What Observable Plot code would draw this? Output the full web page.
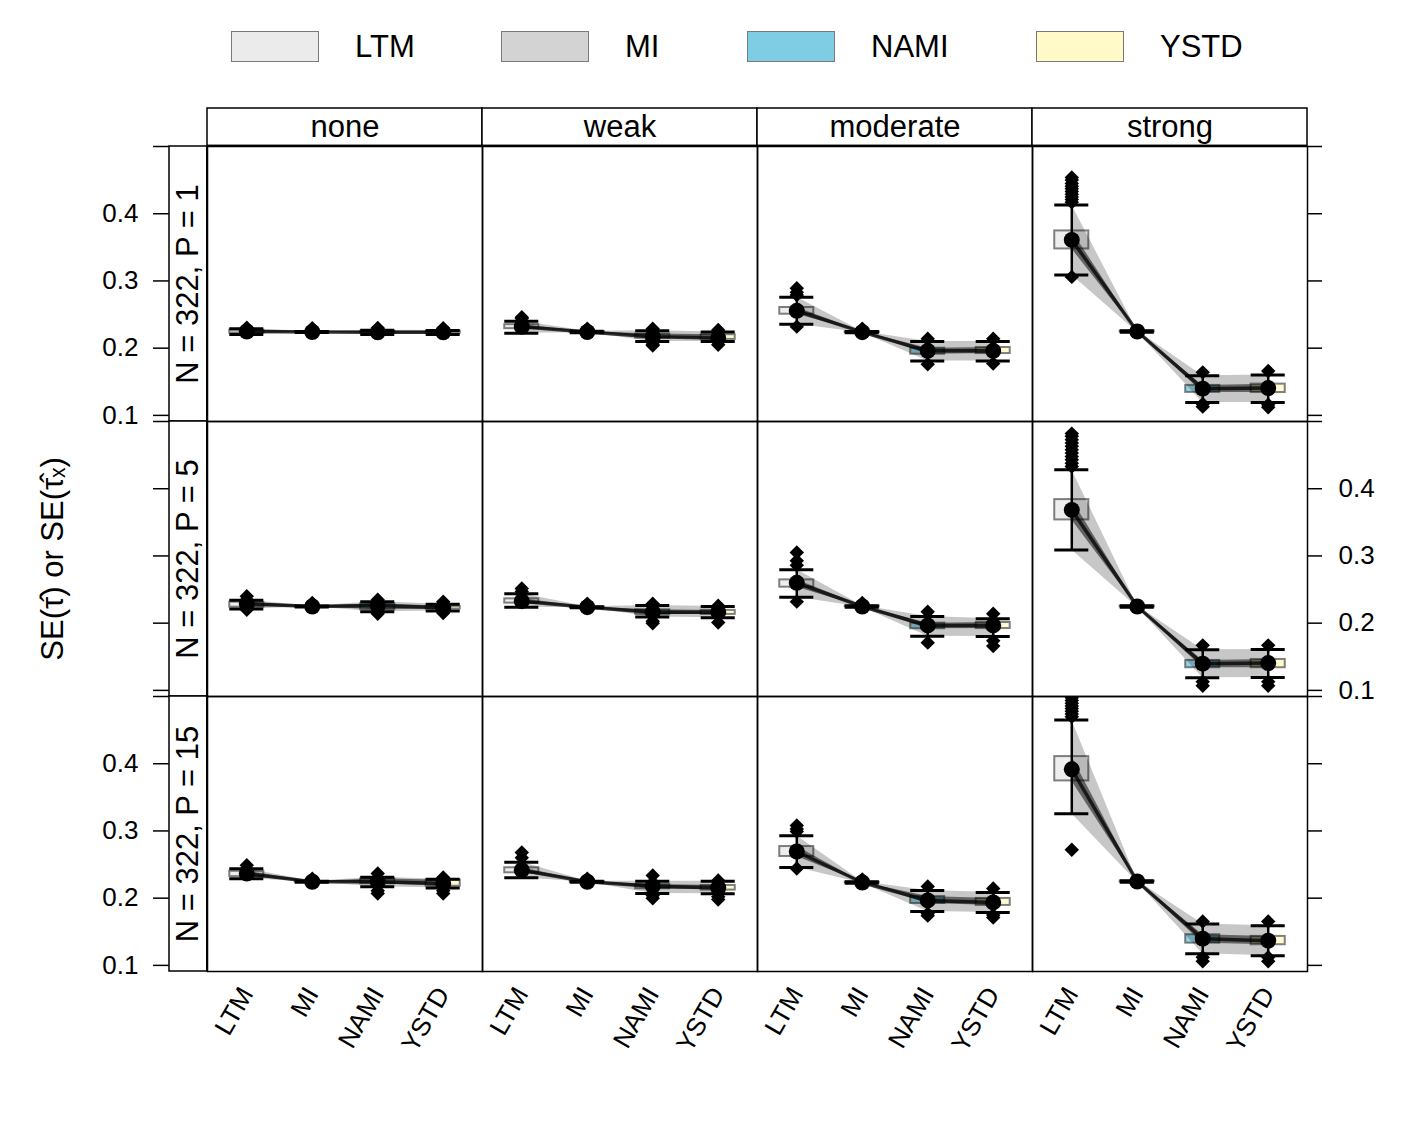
<!DOCTYPE html>
<html><head><meta charset="utf-8">
<script src="https://cdn.jsdelivr.net/npm/d3@7"></script>
<script src="https://cdn.jsdelivr.net/npm/@observablehq/plot@0.6"></script>
<style>
body{margin:0;background:#fff;font-family:"Liberation Sans",Arial,sans-serif;}
#legend{position:relative;width:1420px;height:95px;}
.sw{position:absolute;top:31px;width:88px;height:31px;border:1px solid #7a7a7a;box-sizing:border-box;}
.lb{position:absolute;top:29px;font-size:31px;line-height:36px;color:#000;}
#chart svg{display:block;}
</style></head><body>
<div id="legend"></div>
<div id="chart"></div>
<script>
// ---------- data ----------
const strengths = ["none", "weak", "moderate", "strong"];
const designs = ["N = 322, P = 1", "N = 322, P = 5", "N = 322, P = 15"];
const methods = ["LTM", "MI", "NAMI", "YSTD"];
const methodColors = ["#ebebeb", "#d3d3d3", "#7fcde4", "#fffac8"];
const yTickValues = [0.1, 0.2, 0.3, 0.4, 0.5];
const yLabelValues = [0.1, 0.2, 0.3, 0.4];
const yTitle = "SE(τ̂) or SE(τ̂ₓ)";

// indexed [design][strength][method]
const seMean = [
  [[0.2248, 0.2240, 0.2235, 0.2235], [0.232, 0.224, 0.217, 0.215], [0.2556, 0.2238, 0.196, 0.196], [0.361, 0.2248, 0.1397, 0.1406]],
  [[0.2288, 0.2248, 0.2263, 0.2229], [0.2327, 0.2238, 0.2163, 0.2163], [0.260, 0.2248, 0.1966, 0.1966], [0.3684, 0.2248, 0.1397, 0.1406]],
  [[0.2367, 0.2244, 0.2244, 0.2218], [0.2416, 0.2244, 0.2178, 0.2155], [0.2694, 0.2233, 0.1966, 0.1936], [0.3917, 0.2248, 0.1397, 0.1367]]
];
const seQ1 = [
  [[0.2225, 0.2236, 0.2222, 0.2222], [0.229, 0.2235, 0.215, 0.213], [0.2505, 0.2232, 0.191, 0.192], [0.3476, 0.2242, 0.1342, 0.134]],
  [[0.2238, 0.2244, 0.2198, 0.221], [0.2298, 0.2234, 0.2129, 0.213], [0.2535, 0.2242, 0.1917, 0.192], [0.3536, 0.2242, 0.1337, 0.1337]],
  [[0.232, 0.224, 0.2214, 0.2178], [0.2377, 0.224, 0.214, 0.212], [0.262, 0.2228, 0.1921, 0.1892], [0.3744, 0.2242, 0.1331, 0.1307]]
];
const seQ3 = [
  [[0.2268, 0.2244, 0.2250, 0.2250], [0.235, 0.2245, 0.221, 0.220], [0.2605, 0.2244, 0.200, 0.201], [0.3744, 0.2254, 0.1446, 0.1465]],
  [[0.2312, 0.2252, 0.2288, 0.225], [0.2362, 0.2242, 0.2198, 0.219], [0.2644, 0.2254, 0.200, 0.201], [0.3838, 0.2254, 0.1446, 0.146]],
  [[0.240, 0.2248, 0.2288, 0.2268], [0.2452, 0.2248, 0.2204, 0.2189], [0.2768, 0.2238, 0.2025, 0.1996], [0.4106, 0.2254, 0.1456, 0.1431]]
];
const seLo = [
  [[0.2205, 0.2232, 0.2205, 0.2205], [0.222, 0.223, 0.210, 0.210], [0.2357, 0.2228, 0.181, 0.181], [0.309, 0.2235, 0.1193, 0.119]],
  [[0.221, 0.224, 0.217, 0.218], [0.2238, 0.223, 0.209, 0.208], [0.2387, 0.2238, 0.1807, 0.1802], [0.309, 0.2238, 0.1189, 0.119]],
  [[0.229, 0.2236, 0.2169, 0.215], [0.2303, 0.2236, 0.207, 0.2065], [0.2456, 0.2222, 0.1802, 0.1788], [0.3254, 0.2238, 0.1174, 0.1144]]
];
const seHi = [
  [[0.2290, 0.2248, 0.2265, 0.2262], [0.240, 0.225, 0.226, 0.224], [0.2758, 0.2248, 0.210, 0.210], [0.413, 0.226, 0.159, 0.160]],
  [[0.234, 0.2256, 0.232, 0.228], [0.2436, 0.2246, 0.2263, 0.2248], [0.2793, 0.2258, 0.210, 0.2065], [0.4284, 0.2258, 0.1605, 0.161]],
  [[0.2437, 0.2252, 0.2312, 0.228], [0.2535, 0.2252, 0.2253, 0.2253], [0.293, 0.2244, 0.2114, 0.2085], [0.4651, 0.2258, 0.1614, 0.1589]]
];
const seOutliers = [
  [
    [[0.2305], [0.2295], [0.2300], [0.2298]],
    [[0.244, 0.246], [0.229], [0.229, 0.204, 0.206], [0.227, 0.205]],
    [[0.289, 0.283, 0.279, 0.232], [0.229], [0.214, 0.176], [0.214, 0.177]],
    [[0.417, 0.421, 0.425, 0.429, 0.433, 0.437, 0.441, 0.445, 0.450, 0.454, 0.306], [], [0.164, 0.117, 0.113], [0.166, 0.116, 0.112]]
  ],
  [
    [[0.240, 0.220], [0.230], [0.235, 0.214], [0.232, 0.215]],
    [[0.2516, 0.247], [0.229], [0.229, 0.200, 0.203], [0.226, 0.201]],
    [[0.305, 0.293, 0.286, 0.232], [0.230], [0.217, 0.171], [0.214, 0.174, 0.166]],
    [[0.433, 0.438, 0.443, 0.448, 0.453, 0.458, 0.463, 0.468, 0.473, 0.478, 0.482], [], [0.167, 0.113, 0.107], [0.167, 0.113, 0.107]]
  ],
  [
    [[0.249], [0.229], [0.2367, 0.207, 0.211], [0.2308, 0.207, 0.211]],
    [[0.260, 0.268], [0.229], [0.2337, 0.200, 0.204], [0.2263, 0.198, 0.202]],
    [[0.299, 0.303, 0.308, 0.244], [0.228], [0.2174, 0.177, 0.174], [0.2144, 0.1713, 0.175]],
    [[0.470, 0.474, 0.478, 0.482, 0.486, 0.490, 0.494, 0.498, 0.2719], [], [0.1654, 0.112, 0.106], [0.1654, 0.112, 0.106]]
  ]
];

// ---------- legend (HTML) ----------
const legendSwatchLeft = [231, 501, 747, 1036];
const legend = document.getElementById("legend");
methods.forEach((m, i) => {
  const s = document.createElement("div");
  s.className = "sw"; s.style.left = legendSwatchLeft[i] + "px"; s.style.background = methodColors[i];
  legend.appendChild(s);
  const t = document.createElement("div");
  t.className = "lb"; t.style.left = (legendSwatchLeft[i] + 124) + "px"; t.textContent = m;
  legend.appendChild(t);
});

// ---------- tables ----------
const boxes = [], outl = [];
designs.forEach((dz, r) => strengths.forEach((st, c) => methods.forEach((m, k) => {
  boxes.push({design: dz, strength: st, method: m, pos: k + 1, key: r + "-" + c, color: methodColors[k],
    mean: seMean[r][c][k], q1: seQ1[r][c][k], q3: seQ3[r][c][k], lo: seLo[r][c][k], hi: seHi[r][c][k]});
  seOutliers[r][c][k].forEach(v => outl.push({design: dz, strength: st, pos: k + 1, value: v}));
})));
const topStrips = strengths.map(s => ({strength: s, design: designs[0]}));
const leftStrips = designs.map(d => ({strength: strengths[0], design: d}));
const leftTicks = [], rightTicks = [], leftLabels = [], rightLabels = [];
designs.forEach((d, r) => {
  yTickValues.forEach(v => {
    leftTicks.push({strength: strengths[0], design: d, v});
    rightTicks.push({strength: strengths[3], design: d, v});
  });
  yLabelValues.forEach(v => {
    if (r === 1) rightLabels.push({strength: strengths[3], design: d, v});
    else leftLabels.push({strength: strengths[0], design: d, v});
  });
});
const xLabels = [];
strengths.forEach(s => methods.forEach((m, k) => xLabels.push({strength: s, design: designs[2], pos: k + 1, method: m})));
const titleRow = [{strength: strengths[0], design: designs[1], text: yTitle}];

// ---------- layout ----------
const W = 1420, H = 1041;
const mTop = 50, mBottom = 164, mLeft = 206, mRight = 113;
const fw = (W - mLeft - mRight) / 4, fh = (H - mTop - mBottom) / 3;
const stripH = 38, HALF = 0.26;
const F = {fx: "strength", fy: "design"};

const chart = Plot.plot({
  width: W, height: H,
  marginTop: mTop, marginBottom: mBottom, marginLeft: mLeft, marginRight: mRight,
  style: {fontFamily: "Liberation Sans, Arial, sans-serif", background: "white", overflow: "visible"},
  fx: {domain: strengths, padding: 0, axis: null},
  fy: {domain: designs, padding: 0, axis: null},
  x: {domain: [0.4, 4.6], axis: null},
  y: {domain: [0.0909, 0.5], axis: null},
  marks: [
    Plot.rect(topStrips, {...F, fill: "white", stroke: "black", strokeWidth: 1.5, insetTop: -stripH, insetBottom: fh}),
    Plot.text(topStrips, {...F, text: "strength", frameAnchor: "top", lineAnchor: "middle", dy: -stripH / 2, fontSize: 31}),
    Plot.rect(leftStrips, {...F, fill: "white", stroke: "black", strokeWidth: 1.5, insetLeft: -stripH, insetRight: fw}),
    Plot.text(leftStrips, {...F, text: "design", frameAnchor: "left", textAnchor: "middle", lineAnchor: "middle", dx: -stripH / 2, rotate: -90, fontSize: 31}),
    Plot.rect(boxes, {...F, x1: d => d.pos - HALF, x2: d => d.pos + HALF, y1: "q1", y2: "q3",
      fill: "color", fillOpacity: 0.85, stroke: "#555", strokeOpacity: 0.75, strokeWidth: 2}),
    Plot.areaY(boxes, {...F, x: "pos", y1: "lo", y2: "hi", z: "key", fill: "black", fillOpacity: 0.22, clip: true}),
    Plot.areaY(boxes, {...F, x: "pos", y1: "q1", y2: "q3", z: "key", fill: "black", fillOpacity: 0.5, clip: true}),
    Plot.line(boxes, {...F, x: "pos", y: "mean", z: "key", stroke: "black", strokeWidth: 3.5, strokeOpacity: 0.75}),
    Plot.ruleX(boxes, {...F, x: "pos", y1: "lo", y2: "hi", stroke: "black", strokeWidth: 2.5}),
    Plot.ruleY(boxes, {...F, y: "lo", x1: d => d.pos - HALF, x2: d => d.pos + HALF, stroke: "black", strokeWidth: 3}),
    Plot.ruleY(boxes, {...F, y: "hi", x1: d => d.pos - HALF, x2: d => d.pos + HALF, stroke: "black", strokeWidth: 3}),
    Plot.dot(outl, {...F, x: "pos", y: "value", symbol: "diamond2", r: 6.5, fill: "black", stroke: "none", clip: true}),
    Plot.dot(boxes, {...F, x: "pos", y: "mean", r: 8, fill: "black", stroke: "none"}),
    Plot.frame({stroke: "black", strokeWidth: 1.5}),
    Plot.tickY(leftTicks, {...F, y: "v", insetLeft: -54, insetRight: fw + stripH, stroke: "black", strokeWidth: 1.5}),
    Plot.tickY(rightTicks, {...F, y: "v", insetLeft: fw, insetRight: -15, stroke: "black", strokeWidth: 1.5}),
    Plot.text(leftLabels, {...F, y: "v", text: d => d.v.toFixed(1), frameAnchor: "left", dx: -69, textAnchor: "end", lineAnchor: "middle", fontSize: 26}),
    Plot.text(rightLabels, {...F, y: "v", text: d => d.v.toFixed(1), frameAnchor: "right", dx: 31, textAnchor: "start", lineAnchor: "middle", fontSize: 26}),
    Plot.text(xLabels, {...F, x: "pos", text: "method", frameAnchor: "bottom", lineAnchor: "middle", dy: 18, rotate: -60, textAnchor: "end", fontSize: 26}),
    Plot.text(titleRow, {...F, text: "text", frameAnchor: "left", textAnchor: "middle", lineAnchor: "middle", dx: -154, rotate: -90, fontSize: 31})
  ]
});
document.getElementById("chart").appendChild(chart);
</script>
</body></html>
